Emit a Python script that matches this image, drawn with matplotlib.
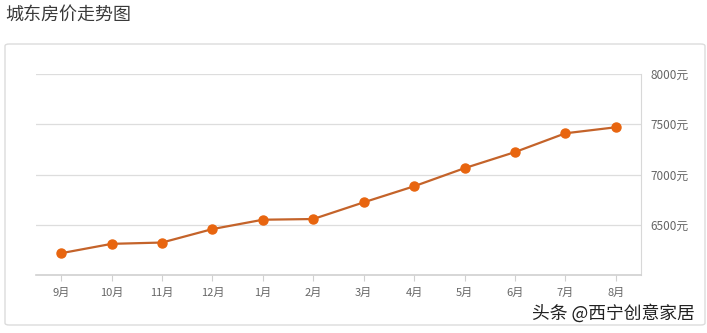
import matplotlib
matplotlib.use("Agg")
import matplotlib.pyplot as plt
from matplotlib.patches import FancyBboxPatch

plt.rcParams['font.family'] = ['Noto Sans CJK SC', 'DejaVu Sans']

# data
months = ['9月', '10月', '11月', '12月', '1月', '2月', '3月', '4月', '5月', '6月', '7月', '8月']
prices = [6217, 6310, 6323, 6457, 6550, 6557, 6723, 6883, 7063, 7223, 7410, 7470]
ytick_vals = [6500, 7000, 7500, 8000]
ytick_labels = ['6500元', '7000元', '7500元', '8000元']

W, H = 707, 333
fig = plt.figure(figsize=(W / 100, H / 100), dpi=100)

# outer card, kept under the axes
card = FancyBboxPatch((5 / W, 1 - 325 / H), 700 / W, 281 / H,
                      boxstyle="round,pad=0,rounding_size=0.006",
                      transform=fig.transFigure, facecolor='white',
                      edgecolor='#dcdcdc', linewidth=1.0, zorder=-5)
fig.patches.append(card)

fig.text(5 / W, 1 - 15 / H, '城东房价走势图', fontsize=13, color='#3a3a3a',
         ha='left', va='center')

ax = fig.add_axes([36 / W, 1 - 275 / H, 605 / W, 201 / H])
ax.set_zorder(2)
ax.set_facecolor('none')
x = list(range(len(months)))
ax.plot(x, prices, color='#c4632a', linewidth=1.6, zorder=3)
ax.plot(x, prices, linestyle='none', marker='o', markersize=6.5,
        color='#e8650f', zorder=4)

ax.set_xlim(-0.5, len(months) - 0.5)
ax.set_ylim(6000, 8000)
ax.set_xticks(x)
ax.set_xticklabels(months)
ax.set_yticks(ytick_vals)
ax.set_yticklabels(ytick_labels)
ax.yaxis.tick_right()
ax.grid(axis='y', color='#dddddd', linewidth=0.9)
ax.set_axisbelow(True)

for s in ['top', 'left']:
    ax.spines[s].set_visible(False)
ax.spines['right'].set_color('#d8d8d8')
ax.spines['bottom'].set_color('#d0d0d0')
ax.spines['bottom'].set_linewidth(1.2)

ax.tick_params(axis='x', length=4, color='#d0d0d0', labelsize=8,
               labelcolor='#666666', pad=5)
ax.tick_params(axis='y', length=0, labelsize=8.5, labelcolor='#666666', pad=7)

fig.text(695 / W, 1 - 313 / H, '头条 @西宁创意家居', fontsize=12.8, color='#222222',
         ha='right', va='center', zorder=10)

fig.savefig('out.png', dpi=100)
